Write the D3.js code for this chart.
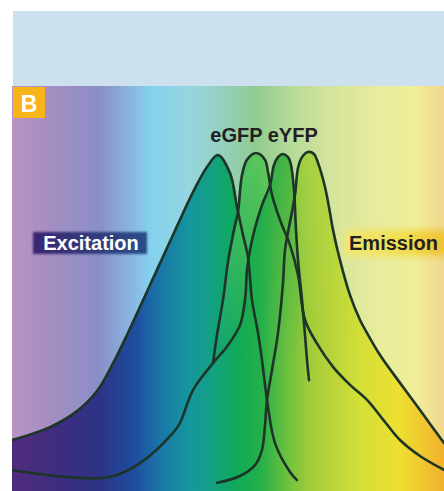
<!DOCTYPE html>
<html>
<head>
<meta charset="utf-8">
<script src="https://cdn.jsdelivr.net/npm/d3@7"></script>
<style>
  html, body { margin: 0; padding: 0; background: #fff; }
  svg { display: block; }
  text { font-family: "Liberation Sans", Arial, sans-serif; font-weight: bold; }
</style>
</head>
<body>
<svg id="spectra" width="444" height="491"></svg>
<script>
// spectra: [wavelength nm, relative intensity %]
var egfpExcitation = [[400,15],[419,18.8],[432.5,23.5],[442.5,29.4],[450,37],[457.5,45.9],[469,60.6],
    [480.5,75.3],[490.5,87.9],[497.5,95.3],[503,98.8],[509,93.5],[512.5,83.5],[515.5,75.3],[518,68.8],
    [520,56.2],[523,46.5],[525,38.5],[527.5,26.8],[531.5,14.1],[539,5.6],[542.5,3.2]];
var egfpEmission = [[500.5,37.6],[502.5,45.9],[505.5,56.2],[508,67.4],[511,76.8],[513,82.1],[515,92.9],
    [517.5,97.4],[522,99.4],[526.5,97.4],[528,93.8],[530,87.1],[534,79.7],[539,72.4],[543,63.5],
    [546.5,50.3],[553,42.9],[560.5,36.5],[569,31.2],[577.5,26.8],[586.5,20.3],[594,15],[604,10.3],[616,6.2]];
var eyfpExcitation = [[400,6.2],[427.5,4.1],[449,4.1],[464,8.2],[480.5,17.1],[484,20],[490.5,29.7],
    [500.5,37.6],[508,42.9],[514,48.8],[516.5,56.2],[517.5,65],[519,70.9],[521.5,77.4],[525,84.1],
    [529,90],[531,95.9],[533,98.2],[535.5,99.1],[538,98.2],[539.5,95.9],[541,88.5],[542,76.8],
    [543,67.9],[545,56.2],[546.5,45.9],[547.5,38.5],[548.5,32.6]];
var eyfpEmission = [[502.5,2.4],[514,4.4],[521.5,7.6],[525,12.1],[526.5,19.4],[527.5,26.8],[530,35.6],
    [533,46.5],[535.5,61.2],[536.5,70.9],[539,79.1],[541.5,87.1],[543,95],[545,98.2],[548,99.7],
    [551,99.1],[553,96.5],[556.5,89.4],[559,81.8],[560.5,76.8],[564,67.9],[569,57.6],[574,50.3],
    [577.5,46.5],[584,40],[594,31.8],[604,23.8],[616,14.1]];

var proteins = ["eGFP", "eYFP"];
var sideLabels = ["Excitation", "Emission"];
var panelLetter = "B";

var svg = d3.select("#spectra");
var panel = {left: 12, top: 86, right: 444, bottom: 491};

var x = d3.scaleLinear().domain([400, 616]).range([panel.left, panel.right]);
var y = d3.scaleLinear().domain([0, 100]).range([panel.bottom, 151]);

var defs = svg.append("defs");

function hGradient(id, stops) {
    var g = defs.append("linearGradient").attr("id", id)
        .attr("gradientUnits", "userSpaceOnUse")
        .attr("x1", panel.left).attr("x2", panel.right).attr("y1", 0).attr("y2", 0);
    stops.forEach(function (s) {
        g.append("stop").attr("offset", (s[0] - panel.left) / (panel.right - panel.left)).attr("stop-color", s[1]);
    });
}
// pale spectrum behind, strong spectrum under the curves
hGradient("bgSpectrum", [[12,"#b893c4"],[50,"#a58ec1"],[100,"#8a8fc8"],[130,"#8ab4e0"],[150,"#84d1ef"],
    [190,"#97d5df"],[220,"#94d1c0"],[255,"#90cb92"],[290,"#b6da98"],[330,"#d4e49c"],[380,"#e8ec9c"],
    [415,"#f0ee98"],[444,"#f0d88e"]]);
hGradient("fillSpectrum", [[12,"#4f2c7b"],[60,"#3e2c80"],[100,"#2c3486"],[135,"#1f4d9f"],[160,"#1a76a8"],
    [190,"#15979e"],[215,"#12a27c"],[235,"#10a95a"],[260,"#22b04a"],[285,"#68bf40"],[310,"#a2cb3a"],
    [360,"#d4df38"],[400,"#eedf30"],[444,"#f3b02e"]]);

function vTint(id, color, top, bottom, op) {
    var g = defs.append("linearGradient").attr("id", id)
        .attr("gradientUnits", "userSpaceOnUse")
        .attr("x1", 0).attr("x2", 0).attr("y1", top).attr("y2", bottom);
    g.append("stop").attr("offset", 0).attr("stop-color", color).attr("stop-opacity", op);
    g.append("stop").attr("offset", 1).attr("stop-color", color).attr("stop-opacity", 0);
}

var exLabelGrad = defs.append("linearGradient").attr("id", "exLabel");
exLabelGrad.append("stop").attr("offset", 0).attr("stop-color", "#3b2671");
exLabelGrad.append("stop").attr("offset", 1).attr("stop-color", "#2b4d88");
var emLabelGrad = defs.append("linearGradient").attr("id", "emLabel");
emLabelGrad.append("stop").attr("offset", 0).attr("stop-color", "#f2e872");
emLabelGrad.append("stop").attr("offset", 0.6).attr("stop-color", "#f3dc4a");
emLabelGrad.append("stop").attr("offset", 1).attr("stop-color", "#f1bf33");

defs.append("filter").attr("id", "soft").append("feGaussianBlur").attr("stdDeviation", 0.5);
defs.append("filter").attr("id", "glow").attr("x", -0.2).attr("y", -0.5).attr("width", 1.4).attr("height", 2)
    .append("feGaussianBlur").attr("stdDeviation", 3);
defs.append("filter").attr("id", "edge").append("feGaussianBlur").attr("stdDeviation", 1);

defs.append("clipPath").attr("id", "panelClip").append("rect")
    .attr("x", panel.left).attr("y", panel.top)
    .attr("width", panel.right - panel.left).attr("height", panel.bottom - panel.top);

// top box
svg.append("rect").attr("x", 13).attr("y", 11).attr("width", 431).attr("height", 75).attr("fill", "#cce0ee");

var g = svg.append("g").attr("clip-path", "url(#panelClip)");
g.append("rect").attr("x", panel.left).attr("y", panel.top)
    .attr("width", panel.right - panel.left).attr("height", panel.bottom - panel.top)
    .attr("fill", "url(#bgSpectrum)");

var area = d3.area().curve(d3.curveCatmullRom)
    .x(function (d) { return x(d[0]); })
    .y0(y(0) + 2)
    .y1(function (d) { return y(d[1]); });
var line = d3.line().curve(d3.curveCatmullRom)
    .x(function (d) { return x(d[0]); })
    .y(function (d) { return y(d[1]); });

var curves = [
    {data: egfpExcitation, tint: null},
    {data: egfpEmission, tint: ["#8cd86a", 0.55]},
    {data: eyfpEmission, tint: ["#b6dc50", 0.35]},
    {data: eyfpExcitation, tint: ["#1aa84a", 0.45]}
];

curves.forEach(function (c, i) {
    g.append("path").datum(c.data).attr("d", area).attr("fill", "url(#fillSpectrum)");
    if (c.tint) {
        vTint("tint" + i, c.tint[0], 150, 360, c.tint[1]);
        g.append("path").datum(c.data).attr("d", area).attr("fill", "url(#tint" + i + ")");
    }
});

curves.forEach(function (c) {
    g.append("path").datum(c.data).attr("d", line)
        .attr("fill", "none").attr("stroke", "#1c3528").attr("stroke-width", 2.6)
        .attr("stroke-linecap", "round").attr("filter", "url(#soft)");
});

// labels
svg.append("rect").attr("x", 13).attr("y", 87).attr("width", 32).attr("height", 31).attr("fill", "#f8b418");
svg.append("text").attr("x", 29).attr("y", 112).attr("text-anchor", "middle")
    .attr("font-size", 23).attr("fill", "#fff").text(panelLetter);

svg.append("text").attr("x", 264).attr("y", 142).attr("text-anchor", "middle")
    .attr("font-size", 20).attr("fill", "#231f20").text(proteins.join(" "));

svg.append("rect").attr("x", 33).attr("y", 232).attr("width", 114).attr("height", 22)
    .attr("fill", "url(#exLabel)").attr("filter", "url(#edge)");
svg.append("text").attr("x", 91).attr("y", 250).attr("text-anchor", "middle")
    .attr("font-size", 20).attr("fill", "#fff").text(sideLabels[0]);

svg.append("rect").attr("x", 344).attr("y", 230).attr("width", 104).attr("height", 26)
    .attr("fill", "url(#emLabel)").attr("filter", "url(#glow)");
svg.append("text").attr("x", 393.5).attr("y", 250).attr("text-anchor", "middle")
    .attr("font-size", 20).attr("fill", "#231f20").text(sideLabels[1]);
</script>
</body>
</html>
